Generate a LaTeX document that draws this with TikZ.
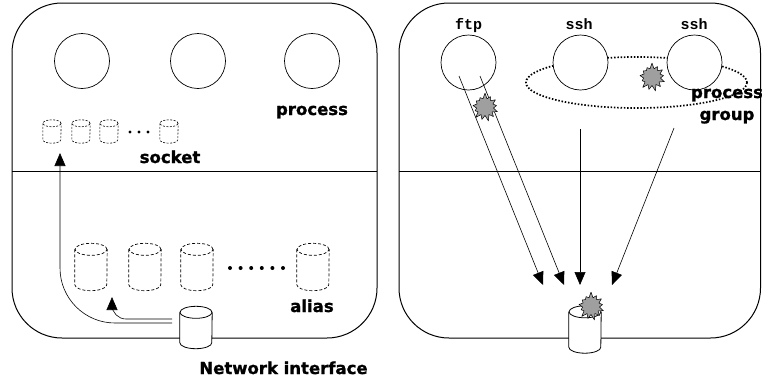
\documentclass[tikz,border=0pt]{standalone}
\usepackage{fontspec}
\setsansfont{DejaVu Sans}[BoldFeatures={FakeBold=1.2}]
\setmonofont{Liberation Mono}
\usetikzlibrary{shapes.symbols,arrows.meta}
% cylinder drawn round a named box: name, x radius, y radius, style
\newcommand{\cyl}[4]{%
 \filldraw[#4, fill=white] ([yshift=-#3]#1.north west) -- ([yshift=#3]#1.south west)
   arc[start angle=180, end angle=360, x radius=#2, y radius=#3] -- ([yshift=-#3]#1.north east);
 \draw[#4] ([yshift=-#3]#1.north) ellipse[x radius=#2, y radius=#3];}
\begin{document}
\begin{tikzpicture}[x=1pt, y=-1pt, line join=round, >={Triangle[length=13pt,width=11pt]},
  panel/.style={line width=1pt, rounded corners=50pt},
  proc/.style={circle, draw, fill=white, line width=0.7pt, minimum size=55pt, inner sep=0pt},
  lbl/.style={font=\sffamily\bfseries\fontsize{16.5}{22}\selectfont, inner sep=0pt, anchor=base},
  pname/.style={font=\ttfamily\bfseries\fontsize{15}{18}\selectfont, inner sep=0pt, anchor=base},
  dbbox/.style 2 args={inner sep=0pt, minimum width=#1, minimum height=#2},
  sockline/.style={line width=0.6pt, dash pattern=on 2pt off 1.5pt},
  aliasline/.style={line width=0.7pt, dash pattern=on 3pt off 2pt},
  solid line/.style={line width=0.8pt},
  boom/.style={starburst, draw, fill=gray!75, line width=0.5pt, minimum width=22pt, minimum height=20pt,
    inner sep=6pt, starburst point height=6pt, starburst points=13, random starburst=7}]
 \useasboundingbox (0,0) rectangle (762,381);
 % left panel
 \draw[panel] (12,3) rectangle (377,338);
 \draw[line width=0.8pt] (12,171) -- (377,171);
 \node[proc] (p1) at (82,61) {};
 \node[proc] (p2) at (198,61) {};
 \node[proc] (p3) at (312,61) {};
 \node[lbl] (proclbl) at (312,115) {process};
 \node[dbbox={18pt}{23pt}] (s1) at (52,131.5) {};
 \node[dbbox={18pt}{23pt}] (s2) at (81,131.5) {};
 \node[dbbox={18pt}{23pt}] (s3) at (109,131.5) {};
 \node[dbbox={18pt}{23pt}] (s4) at (169,131.5) {};
 \foreach \s in {s1,s2,s3,s4} \cyl{\s}{9pt}{3.5pt}{sockline};
 \foreach \i in {0,1,2} \fill (130+\i*9,132) circle (1.6pt);
 \node[lbl] (socklbl) at (170,163) {socket};
 \node[dbbox={32pt}{47pt}] (a1) at (91,267) {};
 \node[dbbox={32pt}{47pt}] (a2) at (145,267) {};
 \node[dbbox={32pt}{47pt}] (a3) at (197,267) {};
 \node[dbbox={32pt}{47pt}] (a4) at (313,267) {};
 \foreach \a in {a1,a2,a3,a4} \cyl{\a}{16pt}{6pt}{aliasline};
 \foreach \i in {0,...,5} \fill (230+\i*10.6,268) circle (2pt);
 \node[lbl] (aliaslbl) at (312,312) {alias};
 \node[dbbox={32pt}{42pt}] (netif) at (196,327.5) {};
 \cyl{netif}{16pt}{6pt}{solid line}
 \node[lbl] (netlbl) at (283.5,374) {Network interface};
 \coordinate (n1) at (172,323);
 \coordinate (n2) at (172,319);
 \coordinate (s1in) at (60,153);
 \coordinate (a1in) at (112,297);
 \draw[->, line width=0.6pt, rounded corners=55pt] (n1) -| (s1in);
 \draw[->, line width=0.6pt, rounded corners=14pt] (n2) -| (a1in);
 % right panel
 \draw[panel] (399,3) rectangle (760.5,338);
 \draw[line width=0.8pt] (399,171) -- (760.5,171);
 \draw[line width=1.7pt, dash pattern=on 1.5pt off 1.8pt] (636.5,82.5) ellipse (110.5 and 25.5);
 \node[proc] (ftp) at (468.5,62.5) {};
 \node[proc] (ssh1) at (580.5,62.5) {};
 \node[proc] (ssh2) at (694.5,62.5) {};
 \node[pname] (ftplbl) at (468.5,29) {ftp};
 \node[pname] (ssh1lbl) at (579,29) {ssh};
 \node[pname] (ssh2lbl) at (694,29) {ssh};
 \node[lbl, align=center] (grplbl) at (727,120) {process\\group};
 \node[dbbox={32pt}{47pt}] (sock) at (585,329.5) {};
 \cyl{sock}{16pt}{6pt}{solid line}
 \coordinate (f1) at (459,76);
 \coordinate (f2) at (480,76);
 \coordinate (g1) at (580,129);
 \coordinate (g2) at (674,128);
 \coordinate (t1) at (543,285);
 \coordinate (t2) at (564,285);
 \coordinate (t3) at (580,285);
 \coordinate (t4) at (612,285);
 \draw[->, line width=0.6pt] (f1) -- (t1);
 \draw[->, line width=0.6pt] (f2) -- (t2);
 \draw[->, line width=0.6pt] (g1) -- (t3);
 \draw[->, line width=0.6pt] (g2) -- (t4);
 \node[boom] (b1) at (485,107) {};
 \node[boom] (b2) at (652,77) {};
 \node[boom] (b3) at (591,306) {};
\end{tikzpicture}
\end{document}
